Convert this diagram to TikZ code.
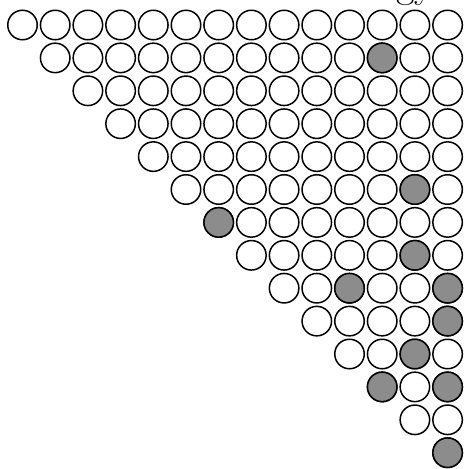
\documentclass[tikz,border=0pt]{standalone}
\usepackage{tikz}
\tikzset{
  hole/.style={draw, circle, line width=1.5pt,
    minimum size=29.5pt, inner sep=0pt},
  peg/.style={hole, fill=black!45},
}

\begin{document}
\begin{tikzpicture}[x=1pt, y=-1pt]
  \useasboundingbox (0,0) rectangle (466,469);
  % cut-off title above
  \node[anchor=base west, inner sep=0pt, font=\fontsize{40}{40}\selectfont]
    (title) at (396,-3) {gy};

  % the triangle of holes
  \foreach \r in {0,...,13} {
    \foreach \c in {\r,...,13} {
      \node[hole] (h-\r-\c) at ({22.5+32.7*\c},{25+32.9*\r}) {};
    }
  }

  % pegs
  \foreach \r/\c in {1/11, 5/12, 6/6, 7/12, 8/10, 8/13, 9/13,
                     10/12, 11/11, 11/13, 13/13} {
    \node[peg] (p-\r-\c) at (h-\r-\c) {};
  }
\end{tikzpicture}
\end{document}
